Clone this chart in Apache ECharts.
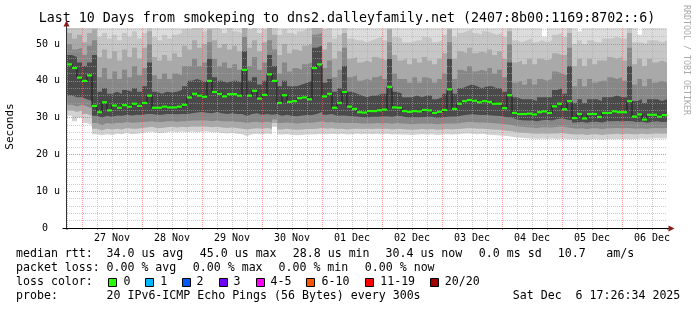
<!DOCTYPE html>
<html><head><meta charset="utf-8">
<script src="https://cdn.jsdelivr.net/npm/echarts@6/dist/echarts.min.js"></script>
<style>html,body{margin:0;padding:0;background:#fff}#c{width:697px;height:310px}</style>
</head><body><div id="c"></div><script>
// time axis: hours after 26 Nov 00:00; one value per 2-hour step
const startHour = 18;
const stepHours = 2;
const endHour = 258;
const dayLabels = ['27 Nov','28 Nov','29 Nov','30 Nov','01 Dec','02 Dec','03 Dec','04 Dec','05 Dec','06 Dec'];
const yTickLabels = ['0','10 u','20 u','30 u','40 u','50 u'];

// median rtt (microseconds)
const median = [
44.5,43.5,40.9,40,41.5,33.2,31.5,34.2,32,33.3,
32.7,33.4,33,33.8,33.2,34,36,32.7,32.7,33,
32.8,32.8,33,33.5,35.5,36.5,36,35.7,40,37,
36.5,35.8,36.4,36.4,36,43,36,37.3,35.2,36.2,
41.8,40,34,36.1,34.3,34.5,35.3,35.5,35,43.5,
44.5,35.8,36.5,32.7,34,37,33,32.4,31.5,31.4,
31.8,31.8,32,32.2,38.4,32.8,32.7,31.8,31.6,31.8,
31.7,32.1,32,31.3,31.6,32.1,37.7,32.4,33.8,34.5,
34.8,34.6,34.2,34.5,34.3,33.8,33.8,32.6,36.1,31.3,
31,31,31.1,30.9,31.5,31.7,31.3,33.1,33.8,32.3,
34.5,29.9,31,29.8,31,31,30.2,31.3,31.3,31.7,
31.5,31.5,34.5,30.3,30.9,29.5,30.8,30.8,30.3,30.7];

// smoke band edges (outer to inner)
const smokeMin = [
30.5,29,30,28.5,28,25.5,25.2,25.5,25.3,25.6,
25.5,25.8,25.5,25.6,25.8,26,26.2,25.8,25.8,26,
26.2,26,26.2,26,26.2,26,26.2,26.2,26,26,
25.8,25.7,25.8,25.6,25.5,25,25.5,25.6,25.5,25.7,
25.5,27.5,25.4,25.5,25.3,25.2,25.3,25.4,25.4,25.5,
25.6,25.5,25.6,25.5,25.6,25.4,25.5,25.6,25.5,25.6,
25.5,25.6,25.5,25.6,25.4,25.5,25.4,25.4,25.3,25.4,
25.5,25.4,25.5,25.3,25.4,25.5,25.4,25.5,25.6,25.7,
25.6,25.5,25.6,25.4,25.3,25.2,25.1,25,24.8,24.6,
24.5,24.4,24.3,24.2,24.3,24.2,24.3,24.2,24.3,24.2,
24.1,24,24.1,24,24.1,24.2,24,24.2,24.1,24.2,
24.1,24.2,24.1,24.2,24.3,24.2,24.3,24.4,24.3,24.4];
const smokeLo2 = [
32,31.5,32,31,30.5,27,26.5,27,26.8,27,
26.8,27.2,27,27,27.2,27.3,27.5,27.2,27.2,27.4,
27.5,27.3,27.5,27.4,27.6,27.5,27.6,27.5,27.4,27.5,
27.3,27.2,27.3,27.2,27,26.8,27,27.1,27,27.2,
27,28.5,26.8,27,26.8,26.7,26.8,26.9,26.9,27,
27.2,27,27.1,26.9,27,26.8,26.9,27,26.9,27,
26.9,27,26.9,27,26.8,26.9,26.9,26.8,26.7,26.8,
26.9,26.8,26.9,26.7,26.8,26.9,26.8,26.9,27,27.1,
27.1,27,27,26.9,26.8,26.7,26.6,26.4,26.3,26,
25.9,25.8,25.7,25.6,25.7,25.6,25.7,25.7,25.8,25.6,
25.5,25.4,25.5,25.3,25.5,25.5,25.3,25.5,25.5,25.6,
25.5,25.6,25.5,25.5,25.6,25.5,25.6,25.7,25.6,25.7];
const smokeLo3 = [
33.5,33,33.5,33,32.5,28.5,28,28.5,28.3,28.6,
28.5,28.8,28.6,28.7,28.8,28.9,29,28.8,28.8,29,
29,28.9,29,29,29.2,29.2,29.3,29.2,29,29.2,
29,29,29,28.9,28.8,28.5,28.8,28.9,28.7,28.9,
28.7,29.5,28.5,28.7,28.5,28.4,28.5,28.6,28.6,28.8,
29,28.7,28.8,28.5,28.6,28.5,28.5,28.5,28.4,28.4,
28.4,28.5,28.4,28.5,28.3,28.5,28.4,28.3,28.2,28.3,
28.4,28.3,28.4,28.2,28.3,28.4,28.4,28.4,28.6,28.8,
28.8,28.7,28.7,28.6,28.5,28.4,28.3,28.1,28,27.6,
27.5,27.4,27.3,27.2,27.4,27.4,27.3,27.5,27.6,27.4,
27.2,27,27.1,26.9,27.1,27.1,26.9,27.1,27.1,27.2,
27.1,27.2,27.1,27,27.1,27,27.1,27.2,27.1,27.2];
const smokeLo4 = [
36,35.5,35.5,35,34.5,30.5,30,30.5,30.2,30.6,
30.5,30.8,30.6,30.8,30.7,31,31,30.8,30.8,31,
31,30.9,31,31,31.2,31.4,31.5,31.3,31.2,31.5,
31.2,31,31.2,31,31,30.5,31,31.2,30.8,31,
30.8,31,30.5,30.8,30.5,30.4,30.6,30.7,30.7,31,
31.5,30.8,31,30.5,30.6,30.5,30.4,30.3,30.1,30,
30.2,30.2,30.3,30.4,30.2,30.5,30.4,30.1,30,30.1,
30.1,30.2,30.2,29.9,30,30.2,30.3,30.3,30.6,30.8,
30.9,30.8,30.7,30.7,30.6,30.5,30.4,30.1,30,29.5,
29.3,29.2,29.2,29,29.3,29.4,29.2,29.6,29.8,29.5,
29.3,28.7,28.9,28.6,28.9,28.9,28.7,29,29,29.1,
29,29.1,29,28.8,28.9,28.6,28.9,29,28.8,28.9];
const smokeHi4 = [
47,46.5,45,44,45,47,37,38,36.5,37,
36.5,37.5,37,38,37,38.5,45,37,36.5,37,
36.8,37,37.5,38.5,40,40.5,40,39.5,46,41,
40,39.5,40,40,39.5,48,40,41,39,40,
47,44,38.5,40,38.5,38.5,39,39.5,40,49,
49.5,39.5,40.5,37,38,44,37,36.5,36,35.5,
36,36,36.5,36.5,46,37,36.5,35.5,35.5,36,
35.5,36,36,35,35.5,36.5,46,36.5,38,38.5,
39,38.5,38,38.5,38.5,38,38,37,45,35.5,
35,35,35,34.5,35.5,35.5,35.5,37.5,38,36.5,
44,34,35,34,35,35,34.5,35.5,35.5,36,
35.5,35.5,44,34.5,35,34,35,35,34.5,35];
const smokeHi3 = [
50,48.5,49,47,49.5,51,41,43.5,40.5,42.5,
40.5,43,41,44,41.5,43.5,50,41.5,40.5,42,
40.5,42,41.5,44,44,46,44,45,50.5,46,
44,45,43.5,44.5,43,52,44,46.5,43,45,
51,48.5,42,45,42.5,43.5,43,44.5,45,52.5,
53,43.5,45.5,41,43,49,41,41.5,40,40.5,
40,41,41.5,40.5,50.5,42,40.5,40.5,39.5,41,
39.5,41,40.5,39.5,40.5,42,50.5,40.5,43,42.5,
44,42.5,43,42.5,43.5,42,43,41,50,39.5,
40,39,40.5,39,40.5,40,40.5,42.5,42,41.5,
49,38.5,40.5,38.5,40.5,39.5,40,40,41,40.5,
41,40,49,39,40.5,38.5,40.5,39.5,40,39.5];
const smokeHi2 = [
53,51.5,52.5,50.5,53,54,46.5,48.5,46,48,
45.5,48.5,46.5,49,46,49,53.5,46.5,45.5,47,
45.5,47.5,46.5,49.5,48.5,51,49,50,54,51,
49,50,48.5,49.5,48,55,49,51,48,50.5,
54.5,52.5,47,50,47.5,48.5,48,49.5,50,55,
55.5,48.5,50.5,46,48,53,46,46.5,45,45.5,
45,46.5,46,45.5,54,47,45.5,46,44.5,46,
45,46.5,45.5,44.5,46,47.5,54,46,48,47.5,
49,47.5,48,47.5,48.5,47,48,46,53.5,45,
45.5,44.5,46,44.5,46,45.5,46,47.5,47,47,
53,44,46,44,46,44.5,45.5,45.5,46.5,46,
46.5,45.5,53,44.5,46,44,46,45,45.5,45];
const smokeHi1 = [
55,55,54.5,54,55,56,52,53,51.5,52.5,
51,53,52,53.5,51.5,53,56,52,51,52.5,
51.5,52.5,53,54,54,55,54.5,53.5,56,54.5,
54,53,54.5,53.5,53,56,54,55,53,54,
56,55.5,52.5,54,53,52.5,53.5,54,55,56,
56,54,55,51.5,52.5,56,51.5,51,51,50.5,
51,51.5,52,51,56,52,51.5,50.5,50.5,51,
51,52,51.5,50.5,51,52.5,56,52,53,53.5,
54,53,52.5,53.5,53,52.5,53,52,56,51,
50.5,51,51.5,50.5,51,50.5,51,52.5,53,52,
56,50,51,50,51,50.5,50.5,51.5,51.5,52,
51.5,51.5,56,50.5,50.5,50,51,51,50.5,51];
const smokeMax = [
56,56,56,56,56,56,56,56,56,56,
56,56,56,56,56,56,56,56,56,56,
56,56,56,56,56,56,56,56,56,56,
56,56,56,56,56,56,56,56,56,56,
56,56,56,56,56,56,56,56,56,56,
56,56,56,56,56,56,56,56,56,56,
56,56,56,56,56,56,56,56,56,56,
56,56,56,56,56,56,56,56,56,56,
56,56,56,56,56,56,56,56,56,56,
56,56,56,56,56,52,56,56,56,56,
56,56,53.5,56,56,56,56,56,56,56,
56,56,56,56,52.5,56,56,56,56,56];

const lossLabels = ['0','1','2','3','4-5','6-10','11-19','20/20'];
const lossColors = ['#26ff00','#00b8ff','#0059ff','#7000ff','#ff00ff','#ff5500','#ff0000','#a10000'];

const MONO = '"DejaVu Sans Mono", monospace';
const xs = median.map((_, i) => startHour + i * stepHours);
function stepData(arr) {
  const d = arr.map((v, i) => [xs[i], v]);
  d.push([endHour, arr[arr.length - 1]]);
  return d;
}
const bandDefs = [
  [smokeMax, '#dcdcdc'], [smokeHi1, '#c6c6c6'], [smokeHi2, '#a9a9a9'], [smokeHi3, '#878787'], [smokeHi4, '#4a4a4a'],
  [smokeLo4, '#878787'], [smokeLo3, '#a9a9a9'], [smokeLo2, '#d2d2d2'], [smokeMin, '#ffffff']
];
const series = bandDefs.map(([arr, col]) => ({
  type: 'line', step: 'end', data: stepData(arr), symbol: 'none', silent: true,
  lineStyle: { width: 0, opacity: 0 }, areaStyle: { color: col, opacity: 1 }, z: 1
}));
series.push({
  type: 'line', step: 'end', data: stepData(median), symbol: 'none', silent: true,
  lineStyle: { color: '#1a1a1a', width: 1 }, z: 8
});
series.push({
  type: 'custom', z: 10, silent: true,
  data: median.map((v, i) => [xs[i], xs[i] + stepHours, v]),
  encode: { x: [0, 1], y: 2 },
  renderItem: (params, api) => {
    const a = api.coord([api.value(0), api.value(2)]);
    const b = api.coord([api.value(1), api.value(2)]);
    return { type: 'rect', shape: { x: a[0], y: a[1] - 1, width: b[0] - a[0], height: 2.2 }, style: { fill: '#22ff00' } };
  }
});

const GRAY = 'rgba(170,170,170,0.6)';
const RED = 'rgba(255,90,90,0.6)';
const chart = echarts.init(document.getElementById('c'), null, { renderer: 'canvas', width: 697, height: 310 });
chart.setOption({
  animation: false,
  backgroundColor: '#ffffff',
  grid: { left: 67, right: 30, top: 28, bottom: 82, containLabel: false },
  xAxis: {
    type: 'value', min: startHour, max: endHour, interval: 6, z: 5,
    axisLine: { show: false }, axisTick: { show: true, length: 2, lineStyle: { color: '#999' } },
    axisLabel: {
      margin: 5, fontFamily: MONO, fontSize: 10, color: '#000',
      formatter: v => { const k = (v - 36) / 24; return (Number.isInteger(k) && k >= 0 && k < dayLabels.length) ? dayLabels[k] : ''; }
    },
    splitLine: { show: true, showMaxLine: false, lineStyle: { color: [GRAY, RED, GRAY, GRAY], type: [1, 1], width: 1 } }
  },
  yAxis: [{
    type: 'value', min: 0, max: 54.35, interval: 10, z: 6,
    axisLine: { show: false }, axisTick: { show: false },
    axisLabel: {
      margin: 7, fontFamily: MONO, fontSize: 10, color: '#000',
      formatter: v => { const k = Math.round(v / 10); return (Math.abs(v - k * 10) < 1e-6 && k < yTickLabels.length) ? (k === 0 ? yTickLabels[0] + '  ' : yTickLabels[k]) : ''; }
    },
    splitLine: { show: true, showMaxLine: false, lineStyle: { color: RED, type: [1, 1], width: 1 } }
  }, {
    type: 'value', min: 0, max: 54.35, interval: 2, z: 5, position: 'left',
    axisLine: { show: false }, axisTick: { show: false }, axisLabel: { show: false },
    splitLine: { show: true, showMaxLine: false, lineStyle: { color: GRAY, type: [1, 1], width: 1 } }
  }],
  series: series
});

// axis lines, arrows and texts
const o = chart.convertToPixel({ gridIndex: 0 }, [startHour, 0]);
const e = chart.convertToPixel({ gridIndex: 0 }, [endHour, 54.35]);
const ax = Math.round(o[0]) - 0.5, ay = Math.round(o[1]) + 0.5;
const g = [];
g.push({ type: 'line', z: 100, shape: { x1: ax, y1: ay + 1, x2: ax, y2: e[1] - 2 }, style: { stroke: '#333', lineWidth: 1 } });
g.push({ type: 'line', z: 100, shape: { x1: ax - 4, y1: ay, x2: e[0] + 2, y2: ay }, style: { stroke: '#000', lineWidth: 1 } });
g.push({ type: 'polygon', z: 101, shape: { points: [[ax - 3, e[1] - 1.5], [ax + 3, e[1] - 1.5], [ax, e[1] - 7.5]] }, style: { fill: '#8b1a1a' } });
g.push({ type: 'polygon', z: 101, shape: { points: [[e[0] + 1.5, ay - 3], [e[0] + 1.5, ay + 3], [e[0] + 7.5, ay]] }, style: { fill: '#8b1a1a' } });

function txt(x, y, s, size) {
  return { type: 'text', z: 100, x: x, y: y,
    style: { text: s, fontFamily: MONO, fontSize: size, fill: '#000', textAlign: 'left', textVerticalAlign: 'middle' } };
}
const title = txt(347, 19, 'Last 10 Days from smokeping to dns2.dalleyfamily.net (2407:8b00:1169:8702::6)', 13.3);
title.style.textAlign = 'center'; g.push(title);
const sec = txt(10, 126.5, 'Seconds', 11); sec.rotation = Math.PI / 2; sec.style.textAlign = 'center'; g.push(sec);
const rrd = txt(686, 5, 'RRDTOOL / TOBI OETIKER', 8.3); rrd.rotation = -Math.PI / 2; rrd.style.fill = '#aaaaaa'; g.push(rrd);

const LF = 11.6;
[[16, 'median rtt:'], [106.5, '34.0 us avg'], [199.8, '45.0 us max'], [292.8, '28.8 us min'], [385.5, '30.4 us now'], [478.8, '0.0 ms sd'], [557.8, '10.7'], [606.2, 'am/s']]
  .forEach(([x, s]) => g.push(txt(x, 254.3, s, LF)));
[[16, 'packet loss:'], [106.5, '0.00 % avg'], [192.8, '0.00 % max'], [278.5, '0.00 % min'], [364.8, '0.00 % now']]
  .forEach(([x, s]) => g.push(txt(x, 268.3, s, LF)));
g.push(txt(16, 282.3, 'loss color:', LF));
const boxX = [108.5, 145.5, 182.5, 219.5, 256.5, 306.5, 365.5, 430.5];
const labX = [123.5, 160.2, 196.5, 233.5, 270.5, 321.5, 380.2, 444.8];
lossLabels.forEach((lab, i) => {
  g.push({ type: 'rect', z: 100, shape: { x: boxX[i], y: 278.5, width: 8, height: 8 }, style: { fill: lossColors[i], stroke: '#000', lineWidth: 1 } });
  g.push(txt(labX[i], 282.3, lab, LF));
});
g.push(txt(16, 296, 'probe:', LF));
g.push(txt(106.5, 296, '20 IPv6-ICMP Echo Pings (56 Bytes) every 300s', LF));
g.push(txt(512.8, 296, 'Sat Dec  6 17:26:34 2025', LF));
chart.setOption({ graphic: { elements: g } });
</script></body></html>
